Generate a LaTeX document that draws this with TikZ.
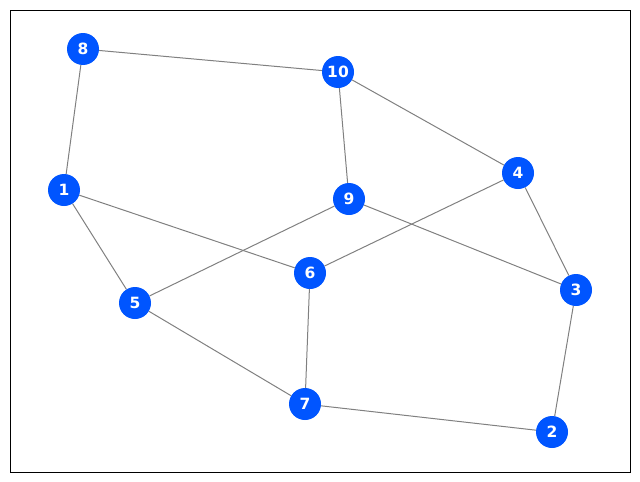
\documentclass[tikz,border=0pt]{standalone}
\usepackage{fontspec}
\setmainfont{DejaVu Sans}
\definecolor{nodeblue}{HTML}{0055FF}
\tikzset{
  vert/.style={circle, fill=nodeblue, minimum size=32pt, inner sep=0pt, text=white, font=\fontsize{15.5}{17}\selectfont\bfseries},
  edge/.style={draw=gray, line width=1pt}
}
\begin{document}
\begin{tikzpicture}[x=1pt,y=-1pt]
\useasboundingbox (0,0) rectangle (640,482);
\draw[line width=0.9pt] (10,10) rectangle (630,472);
\node[vert] (n8) at (83,49) {8};
\node[vert] (n10) at (338,72) {10};
\node[vert] (n1) at (64,190) {1};
\node[vert] (n9) at (349,199) {9};
\node[vert] (n4) at (518,173) {4};
\node[vert] (n6) at (310,273) {6};
\node[vert] (n3) at (576,290) {3};
\node[vert] (n5) at (135,303) {5};
\node[vert] (n7) at (305,404) {7};
\node[vert] (n2) at (552,432) {2};
\foreach \a/\b in {n8/n10, n8/n1, n10/n9, n10/n4, n1/n6, n1/n5, n9/n5, n9/n3, n4/n6, n4/n3, n6/n7, n5/n7, n7/n2, n3/n2}
  \draw[edge] (\a) -- (\b);
\end{tikzpicture}
\end{document}
